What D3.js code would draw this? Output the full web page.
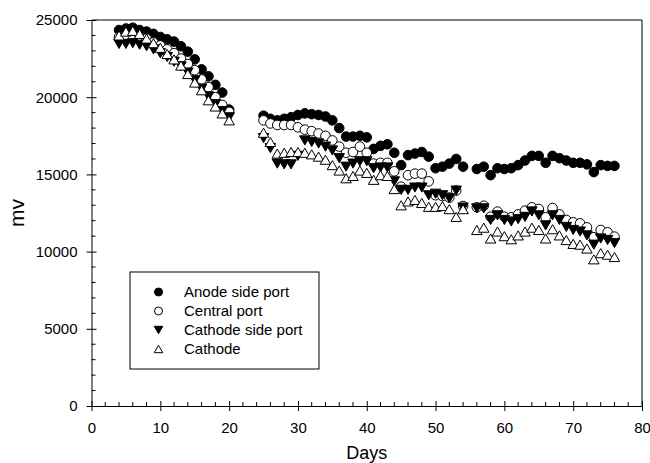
<!DOCTYPE html>
<html>
<head>
<meta charset="utf-8">
<script src="https://cdn.jsdelivr.net/npm/d3@7"></script>
<style>
  html, body { margin: 0; padding: 0; background: #fff; }
  svg { display: block; font-family: Arial, "Liberation Sans", sans-serif; }
</style>
</head>
<body>
<svg id="chart" width="650" height="463"></svg>
<script>
// ---------- data ----------
const days = [4,5,6,7,8,9,10,11,12,13,14,15,16,17,18,19,20,
  25,26,27,28,29,30,31,32,33,34,35,36,37,38,39,40,41,42,43,44,45,46,47,48,49,50,51,52,53,54,
  56,57,58,59,60,61,62,63,64,65,66,67,68,69,70,71,72,73,74,75,76];

const anodeSidePort = [24350,24450,24500,24350,24250,24100,23900,23750,23600,23300,22950,22450,21800,21350,20800,20300,19200,
  18800,18600,18500,18600,18700,18850,18950,18900,18850,18750,18500,18000,17450,17450,17500,17400,16650,16850,16950,16400,15600,16250,16350,16450,16150,15400,15500,15700,16000,15500,
  15350,15500,14950,15400,15350,15400,15600,15900,16200,16200,15750,16200,16050,15900,15750,15750,15650,15150,15600,15550,15550];

const centralPort = [23900,24000,24000,23900,23800,23550,23350,23100,22850,22500,22150,21750,21150,20650,20000,19500,19050,
  18500,18300,18200,18200,18200,18050,17900,17800,17650,17500,17200,16800,16400,16450,16800,16400,15700,15750,15750,15200,14200,14950,15050,15050,14550,13650,13600,13500,13950,12950,
  12870,12970,12260,12590,12260,12220,12410,12650,12870,12760,12220,12820,12410,12050,11900,11830,11570,10930,11400,11250,10970];

const cathodeSidePort = [23450,23450,23500,23400,23300,23100,22850,22600,22300,22000,21600,21100,20550,20050,19550,19100,18700,
  17350,16700,15700,15650,15650,16200,17200,17100,17000,16800,16550,16050,15500,15700,15850,15850,15400,15450,15450,14550,14000,14000,14150,14150,13650,13750,13650,13450,13950,12850,
  12800,12800,12050,12350,12050,11950,12100,12250,12600,12350,11700,12350,12050,11600,11400,11300,11050,10450,10850,10750,10550];

const cathode = [24000,24250,24300,24100,23800,23500,23200,22800,22450,22050,21500,20950,20450,19800,19400,18950,18500,
  17700,17100,16350,16400,16450,16450,16400,16300,16150,15950,15600,15250,14750,14900,15250,15100,14650,14950,14900,14050,13000,13250,13350,13150,12900,12900,12950,12750,12250,12750,
  11400,11550,10850,11300,11000,10800,11050,11300,11550,11400,10850,11450,11050,10750,10500,10450,10200,9500,9900,9800,9650];

const seriesNames = ["Anode side port", "Central port", "Cathode side port", "Cathode"];
const seriesValues = [anodeSidePort, centralPort, cathodeSidePort, cathode];
const xTicks = [0,10,20,30,40,50,60,70,80];
const yTicks = [0,5000,10000,15000,20000,25000];
const xTitle = "Days";
const yTitle = "mv";

// ---------- layout ----------
const svg = d3.select("#chart");
const L = 91.5, R = 642, T = 20, B = 406;
const x = d3.scaleLinear().domain([0, 80]).range([L, R]);
const y = d3.scaleLinear().domain([0, 25000]).range([B, T]);

// frame (top/right)
svg.append("path")
  .attr("d", `M${L},${T}H${R}V${B}`)
  .attr("fill", "none").attr("stroke", "#000").attr("stroke-width", 1);

// x axis
const xMinor = d3.range(0, 81, 2).filter(v => v % 10 !== 0);
const gx = svg.append("g").attr("transform", `translate(0,${B})`);
gx.call(d3.axisBottom(x).tickValues(xTicks).tickSizeInner(5).tickSizeOuter(0).tickPadding(11).tickFormat(d3.format("d")));
gx.selectAll(".tick line").attr("y1", -5).attr("y2", 5);
gx.selectAll(".tick text").attr("font-size", 15).attr("font-family", "Arial, 'Liberation Sans', sans-serif").attr("fill", "#000");
gx.select(".domain").attr("stroke", "#000");
gx.selectAll(".minor").data(xMinor).enter().append("line")
  .attr("class", "minor").attr("x1", d => x(d)).attr("x2", d => x(d))
  .attr("y1", 0).attr("y2", -4).attr("stroke", "#000");

// y axis
const yMinor = d3.range(0, 25001, 1000).filter(v => v % 5000 !== 0);
const gy = svg.append("g").attr("transform", `translate(${L},0)`);
gy.call(d3.axisLeft(y).tickValues(yTicks).tickSizeInner(5).tickSizeOuter(0).tickPadding(9).tickFormat(d3.format("d")));
gy.selectAll(".tick line").attr("x1", -5).attr("x2", 5);
gy.selectAll(".tick text").attr("font-size", 15).attr("font-family", "Arial, 'Liberation Sans', sans-serif").attr("fill", "#000");
gy.select(".domain").attr("stroke", "#000");
gy.selectAll(".minor").data(yMinor).enter().append("line")
  .attr("class", "minor").attr("y1", d => y(d)).attr("y2", d => y(d))
  .attr("x1", 0).attr("x2", 4).attr("stroke", "#000");

// titles
svg.append("text").attr("x", (L + R) / 2).attr("y", 459).attr("text-anchor", "middle")
  .attr("font-size", 18).text(xTitle);
svg.append("text").attr("transform", `translate(24,${(T + B) / 2}) rotate(-90)`)
  .attr("text-anchor", "middle").attr("font-size", 21).text(yTitle);

// ---------- markers ----------
const symCircle = d3.symbol().type(d3.symbolCircle);
function triPath(s, down) {
  // equilateral-ish triangle of width s centred at 0,0
  const h = s * 0.87;
  if (down) return `M${-s/2},${-h/2}L${s/2},${-h/2}L0,${h/2}Z`;
  return `M${-s/2},${h/2}L${s/2},${h/2}L0,${-h/2}Z`;
}
const styles = [
  { kind: "circle", fill: "#000", stroke: "#000" },
  { kind: "circle", fill: "#fff", stroke: "#000" },
  { kind: "down", fill: "#000", stroke: "#000" },
  { kind: "up", fill: "#fff", stroke: "#000" }
];
function markerPath(kind, size) {
  if (kind === "circle") return symCircle.size(Math.PI * size * size / 4)();
  return triPath(size, kind === "down");
}

seriesValues.forEach((vals, i) => {
  const st = styles[i];
  const pts = days.map((d, j) => ({ d, v: vals[j] }));
  svg.append("g").selectAll("path").data(pts).enter().append("path")
    .attr("transform", p => `translate(${x(p.d)},${y(p.v)})`)
    .attr("d", markerPath(st.kind, st.kind === "circle" ? 9.6 : 10.5))
    .attr("fill", st.fill).attr("stroke", st.stroke).attr("stroke-width", 1);
});

// ---------- legend ----------
const lg = svg.append("g");
lg.append("rect").attr("x", 130).attr("y", 272).attr("width", 189).attr("height", 97)
  .attr("fill", "#fff").attr("stroke", "#000").attr("stroke-width", 1);
const rowY = d3.scalePoint().domain(seriesNames).range([292, 349]);
seriesNames.forEach((name, i) => {
  const st = styles[i];
  lg.append("path").attr("transform", `translate(158.5,${rowY(name)})`)
    .attr("d", markerPath(st.kind, st.kind === "circle" ? 8 : 8.5))
    .attr("fill", st.fill).attr("stroke", st.stroke).attr("stroke-width", 1);
  lg.append("text").attr("x", 184).attr("y", rowY(name)).attr("dy", "0.35em")
    .attr("font-size", 15).text(name);
});
</script>
</body>
</html>
